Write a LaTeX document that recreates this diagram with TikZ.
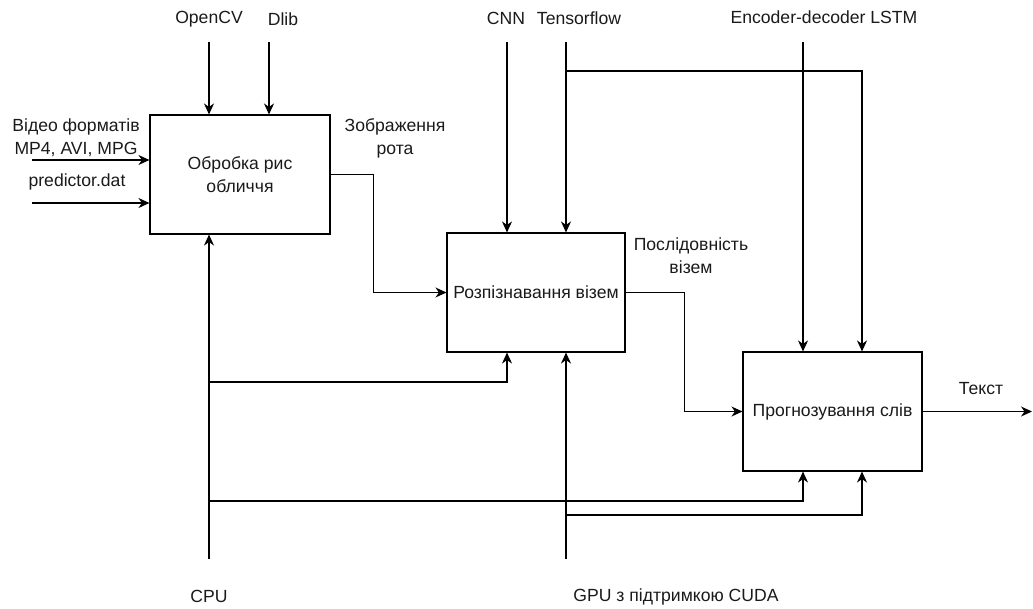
\documentclass[tikz,border=0pt]{standalone}
\usepackage{fontspec}
\setmainfont{Liberation Sans}
\usetikzlibrary{arrows.meta}
\definecolor{ink}{HTML}{1A1A1A}
\begin{document}
\begin{tikzpicture}[x=1pt,y=-1pt,
  font=\fontsize{17.6}{23}\selectfont,
  proc/.style={draw,line width=1.1pt,rectangle,inner sep=0pt,align=center,text=ink},
  lbl/.style={inner sep=0pt,align=center,text=ink},
  conn/.style={line width=1.1pt,-{Stealth[length=11pt,width=10pt,inset=3.5pt]}}]
\useasboundingbox (0,0) rectangle (1033,608);
% boxes
\node[proc,minimum width=180pt,minimum height=119pt] (b1) at (240,174.5) {Обробка рис\\обличчя};
\node[proc,minimum width=178pt,minimum height=119pt] (b2) at (536,292.5) {Розпізнавання візем};
\node[proc,minimum width=179pt,minimum height=119pt] (b3) at (832.5,411.5) {Прогнозування слів};
% labels
\node[lbl] (lopencv) at (209,19) {OpenCV};
\node[lbl] (ldlib) at (283,19) {Dlib};
\node[lbl] (lcnn) at (506,18) {CNN};
\node[lbl] (ltf) at (579,18) {Tensorflow};
\node[lbl] (llstm) at (824,17) {Encoder-decoder LSTM};
\node[lbl] (lvid) at (76,137.5) {Відео форматів\\MP4, AVI, MPG};
\node[lbl] (lpred) at (77,182) {predictor.dat};
\node[lbl] (limg) at (395,138) {Зображення\\рота};
\node[lbl] (lseq) at (691,256) {Послідовність\\візем};
\node[lbl] (ltext) at (981,389) {Текст};
\node[lbl] (lcpu) at (209,596) {CPU};
\node[lbl] (lgpu) at (676,597) {GPU з підтримкою CUDA};
% free ends
\coordinate (cocv) at (209,42);
\coordinate (cdlib) at (269,42);
\coordinate (cvid) at (32,160);
\coordinate (cpred) at (32,203);
\coordinate (ccnn) at (507,42);
\coordinate (ctf) at (566,42);
\coordinate (ctfb) at (566,71);
\coordinate (clstm) at (803,42);
\coordinate (cout) at (1032,411.5);
\coordinate (ccpu) at (209,559);
\coordinate (ccpu1) at (209,382);
\coordinate (ccpu2) at (209,501);
\coordinate (cgpu) at (566,559);
\coordinate (cgpub) at (566,515);
% connectors
\draw[conn] (cocv) -- (cocv |- b1.north);
\draw[conn] (cdlib) -- (cdlib |- b1.north);
\draw[conn] (cvid) -- (cvid -| b1.west);
\draw[conn] (cpred) -- (cpred -| b1.west);
\draw[conn] (b1.east) -- ++(43,0) |- (b2.west);
\draw[conn] (ccnn) -- (ccnn |- b2.north);
\draw[conn] (ctf) -- (ctf |- b2.north);
\draw[conn] (ctfb) -- (862,71) -- (862,0 |- b3.north);
\draw[conn] (clstm) -- (clstm |- b3.north);
\draw[conn] (b2.east) -- ++(59,0) |- (b3.west);
\draw[conn] (b3.east) -- (cout);
\draw[conn] (ccpu) -- (ccpu |- b1.south);
\draw[conn] (ccpu1) -- (507,382) -- (507,0 |- b2.south);
\draw[conn] (ccpu2) -- (803,501) -- (803,0 |- b3.south);
\draw[conn] (cgpu) -- (cgpu |- b2.south);
\draw[conn] (cgpub) -- (862,515) -- (862,0 |- b3.south);
\end{tikzpicture}
\end{document}
